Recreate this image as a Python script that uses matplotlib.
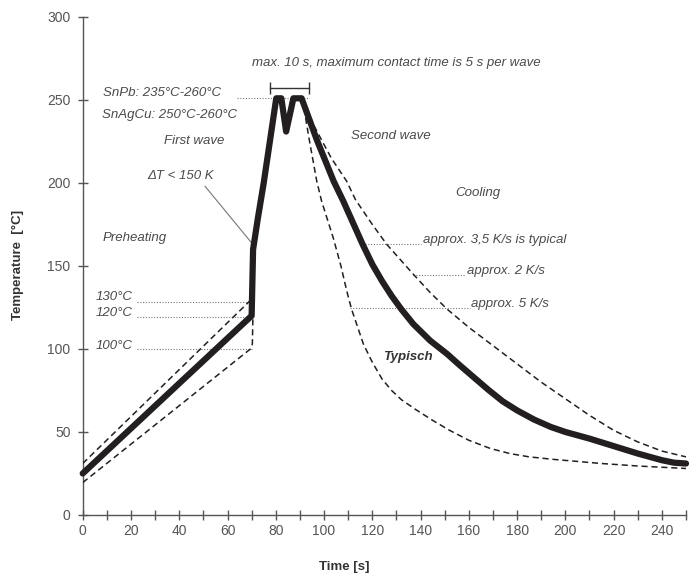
#!/usr/bin/env python3
"""Wave soldering temperature profile (recreated chart)."""

import matplotlib
matplotlib.use("Agg")
import matplotlib.pyplot as plt
from matplotlib.ticker import MultipleLocator

# ---- data ----
# typical profile (thick line)
typ_t = [0, 70, 70.6, 72.5, 75, 80.2, 82.3, 84.3, 87.3, 90.7, 97, 104, 108,
         112, 116, 120, 124, 128, 132, 137, 144, 151, 156, 162, 168, 174, 180,
         187, 194, 200, 210, 220, 230, 240, 245, 250]
typ_T = [25, 120, 160, 178, 200, 251, 251, 231, 251, 251, 226, 201, 189,
         176, 163, 151, 141, 132, 124, 115, 105, 97, 90.5, 83, 75.5, 68.5, 63,
         57.5, 53, 50, 46, 41.5, 37, 33, 31.5, 31]

# preheating band (dashed)
pre_hi_t = [0, 69.3, 70.5]
pre_hi_T = [31, 129, 124]
pre_lo_t = [0, 69.5, 70.3, 70.5]
pre_lo_T = [19.5, 100, 103, 118]

# fast cooling, approx. 5 K/s (dashed)
fast_t = [91, 94, 97, 99, 103.8, 107, 109.4, 111.4, 116.3, 120, 124, 128,
          132, 138, 145, 152, 160, 169, 177, 185, 195, 203, 215, 230, 250]
fast_T = [251, 225, 201, 189, 167, 150, 135, 124, 103, 92, 82, 75, 69.5,
          63.5, 57, 51, 45, 40, 37, 35, 33.5, 32.5, 31, 29.5, 28]

# slow cooling, approx. 2 K/s (dashed)
slow_t = [91, 96, 103, 109.4, 113, 120, 126, 137, 144, 151, 160, 170, 180,
          190, 200, 210, 220, 230, 240, 250]
slow_T = [251, 234, 215, 201, 190, 175, 163, 145, 134, 124, 113, 102, 91,
          80, 70, 60, 51, 44, 38.5, 35]

# reference temperatures with dotted leaders
ref_T = [130, 120, 100]
ref_line_T = [128, 119, 100]
ref_labels = ["130°C", "120°C", "100°C"]

TEXT = "#4a4a4a"
DARK = "#231f20"

plt.rcParams["font.family"] = ["Liberation Sans", "DejaVu Sans"]

fig = plt.figure(figsize=(6.91, 5.77), dpi=100)
ax = fig.add_axes([0.1197, 0.1075, 0.8731, 0.8631])

dash = dict(color=DARK, lw=1.1, ls=(0, (4, 2.5)), zorder=3)
ax.plot(pre_hi_t, pre_hi_T, **dash)
ax.plot(pre_lo_t, pre_lo_T, **dash)
ax.plot(fast_t, fast_T, **dash)
ax.plot(slow_t, slow_T, **dash)
ax.plot(typ_t, typ_T, color=DARK, lw=4.5, solid_capstyle="round",
        solid_joinstyle="round", zorder=4, clip_on=False)

dot = dict(color="#777777", lw=0.8, ls=(0, (1, 1.5)), zorder=2)
for yl in ref_line_T:
    ax.plot([22.5, 70], [yl, yl], **dot)
ax.plot([63.8, 93.4], [251, 251], **dot)
ax.plot([117, 140.2], [163, 163], **dot)
ax.plot([136.9, 158.4], [144.6, 144.6], **dot)
ax.plot([110.8, 160.5], [124.4, 124.4], **dot)

# delta T leader
ax.plot([50.7, 70.5], [198, 163], color="#777777", lw=0.8, zorder=2)

# contact-time bar
ax.plot([77.6, 93.8], [257.5, 257.5], color="#333333", lw=1.0,
        marker="|", markersize=8, markeredgewidth=1.0, clip_on=False)

it = dict(style="italic", color=TEXT, fontsize=9.5, va="center")
for y, lab in zip(ref_T, ref_labels):
    ax.text(20.5, y + 1.5, lab, ha="right", **it)
ax.text(70.3, 272, "max. 10 s, maximum contact time is 5 s per wave", ha="left", **it)
ax.text(8.2, 254, "SnPb: 235°C-260°C", ha="left", **it)
ax.text(7.9, 241, "SnAgCu: 250°C-260°C", ha="left", **it)
ax.text(33.8, 225, "First wave", ha="left", **it)
ax.text(26.8, 204, "\u0394T < 150 K", ha="left", **it)
ax.text(8.1, 167, "Preheating", ha="left", **it)
ax.text(111.2, 228, "Second wave", ha="left", **it)
ax.text(154.3, 194, "Cooling", ha="left", **it)
ax.text(141.2, 165.5, "approx. 3,5 K/s is typical", ha="left", **it)
ax.text(159.1, 147, "approx. 2 K/s", ha="left", **it)
ax.text(161, 127, "approx. 5 K/s", ha="left", **it)
ax.text(124.5, 95, "Typisch", ha="left", va="center", style="italic",
        fontweight="bold", color="#333333", fontsize=9.5)

ax.set_xlim(0, 250)
ax.set_ylim(0, 300)
ax.xaxis.set_major_locator(MultipleLocator(20))
ax.xaxis.set_minor_locator(MultipleLocator(10))
ax.yaxis.set_major_locator(MultipleLocator(50))
for s in ("top", "right"):
    ax.spines[s].set_visible(False)
for s in ("left", "bottom"):
    ax.spines[s].set_color("#555555")
    ax.spines[s].set_linewidth(1.0)
ax.tick_params(axis="both", which="both", direction="inout", length=7.5,
               width=1.0, color="#555555", labelcolor="#555555", labelsize=10)
ax.tick_params(axis="x", which="major", pad=3)
ax.tick_params(axis="y", pad=5)

lab = dict(fontsize=9.5, fontweight="bold", color="#333333",
           family=["Liberation Sans Narrow", "Liberation Sans", "DejaVu Sans"])
fig.text(344 / 691, 1 - 567 / 577, "Time [s]", ha="center", va="center", **lab)
fig.text(18 / 691, 1 - 265 / 577, "Temperature  [°C]", ha="center", va="center",
         rotation=90, **lab)

fig.savefig("out.png", dpi=100)
